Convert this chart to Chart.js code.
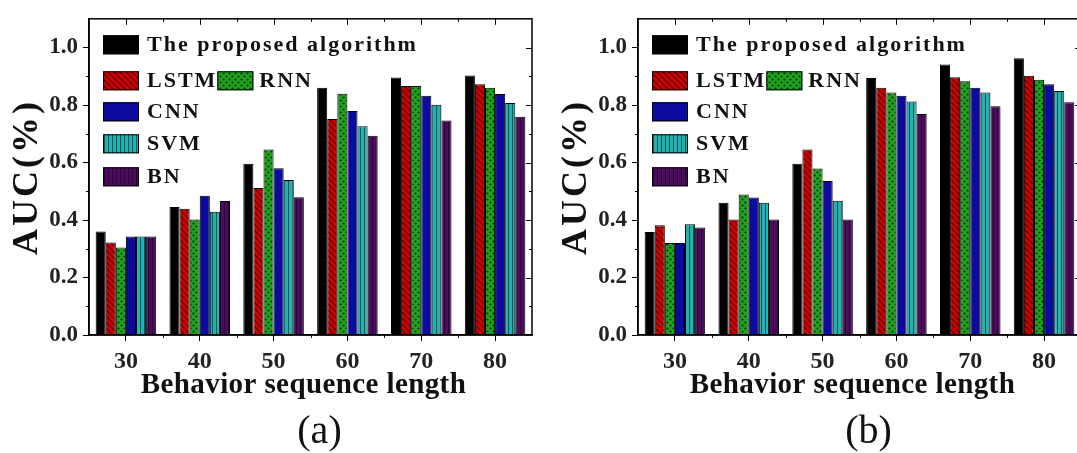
<!DOCTYPE html>
<html>
<head>
<meta charset="utf-8">
<script src="https://cdn.jsdelivr.net/npm/chart.js@4.4.1/dist/chart.umd.min.js"></script>
<style>
  html, body { margin: 0; padding: 0; background: #fff; width: 1077px; height: 453px; overflow: hidden; }
  .panel { position: absolute; top: 0; width: 540px; height: 453px; }
  #boxA { left: 0; }
  #boxB { left: 549px; }
</style>
</head>
<body>
<div class="panel" id="boxA"><canvas id="chartA" width="540" height="453"></canvas></div>
<div class="panel" id="boxB"><canvas id="chartB" width="540" height="453"></canvas></div>
<script>
// behaviour sequence lengths on the x axis
const lengths = ['30', '40', '50', '60', '70', '80'];
const methods = ['The proposed algorithm', 'LSTM', 'RNN', 'CNN', 'SVM', 'BN'];
const yTicks = [0, 0.2, 0.4, 0.6, 0.8, 1.0];

// panel (a)
const proposedA = [0.360, 0.445, 0.596, 0.860, 0.896, 0.903];
const lstmA     = [0.322, 0.439, 0.511, 0.751, 0.866, 0.872];
const rnnA      = [0.304, 0.402, 0.645, 0.839, 0.866, 0.860];
const cnnA      = [0.343, 0.484, 0.580, 0.779, 0.832, 0.838];
const svmA      = [0.343, 0.429, 0.539, 0.726, 0.801, 0.807];
const bnA       = [0.343, 0.466, 0.479, 0.693, 0.746, 0.759];

// panel (b)
const proposedB = [0.358, 0.460, 0.596, 0.894, 0.941, 0.963];
const lstmB     = [0.382, 0.402, 0.645, 0.860, 0.897, 0.902];
const rnnB      = [0.320, 0.489, 0.579, 0.844, 0.883, 0.888];
const cnnB      = [0.320, 0.478, 0.536, 0.832, 0.860, 0.872];
const svmB      = [0.385, 0.460, 0.467, 0.812, 0.844, 0.849];
const bnB       = [0.374, 0.402, 0.402, 0.769, 0.796, 0.810];

const serif = "'Liberation Serif', 'Times New Roman', serif";

// hatch fills like the origin plot
function makePattern(base, size, draw) {
  const c = document.createElement('canvas');
  c.width = size; c.height = size;
  const g = c.getContext('2d');
  g.fillStyle = base;
  g.fillRect(0, 0, size, size);
  draw(g, size);
  return g.createPattern(c, 'repeat');
}

const fills = [
  '#000000',
  makePattern('#d40000', 6, (g, s) => {
    g.strokeStyle = '#5c0000'; g.lineWidth = 1.4;
    g.beginPath();
    g.moveTo(-1, -1); g.lineTo(s + 1, s + 1);
    g.moveTo(-1, s - 1); g.lineTo(1, s + 1);
    g.moveTo(s - 1, -1); g.lineTo(s + 1, 1);
    g.stroke();
  }),
  makePattern('#1fa31f', 6, (g, s) => {
    g.fillStyle = '#053305';
    g.beginPath(); g.arc(1.5, 1.5, 1.1, 0, Math.PI * 2); g.fill();
    g.beginPath(); g.arc(4.5, 4.5, 1.1, 0, Math.PI * 2); g.fill();
  }),
  '#0b0b9e',
  makePattern('#22b2b2', 4, (g, s) => {
    g.fillStyle = '#0c5656'; g.fillRect(0, 0, 1, s);
  }),
  makePattern('#4d0b5e', 4, (g, s) => {
    g.fillStyle = '#2a0434'; g.fillRect(0, 0, 1, s);
  })
];

function drawSpaced(ctx, text, x, y, spacing) {
  ctx.letterSpacing = spacing + 'px';
  ctx.fillText(text, x, y);
  ctx.letterSpacing = '0px';
}

const figurePlugin = {
  id: 'figure',
  afterDraw(chart, args, opts) {
    const { ctx, chartArea: a } = chart;
    const x = chart.scales.x, y = chart.scales.y;
    ctx.save();
    ctx.strokeStyle = '#000';
    ctx.lineWidth = 1.5;
    ctx.strokeRect(a.left, a.top, a.right - a.left, a.bottom - a.top);

    // minor and mirrored ticks
    ctx.lineWidth = 1;
    ctx.beginPath();
    for (let i = 1; i <= 10; i++) {
      const py = Math.round(y.getPixelForValue(i / 10)) + 0.5;
      const major = i % 2 === 0;
      if (!major) { ctx.moveTo(a.left - 3, py); ctx.lineTo(a.left, py); }
      ctx.moveTo(a.right, py); ctx.lineTo(a.right - (major ? 6 : 3), py);
    }
    const step = x.getPixelForValue(1) - x.getPixelForValue(0);
    for (let i = 0; i < lengths.length; i++) {
      const cx = Math.round(x.getPixelForValue(i)) + 0.5;
      ctx.moveTo(cx, a.top); ctx.lineTo(cx, a.top + 6);
      const bx = Math.round(x.getPixelForValue(i) + step / 2) + 0.5;
      if (bx < a.right - 2) {
        ctx.moveTo(bx, a.bottom); ctx.lineTo(bx, a.bottom + 3);
        ctx.moveTo(bx, a.top); ctx.lineTo(bx, a.top + 3);
      }
    }
    ctx.stroke();

    // legend
    const ds = chart.data.datasets;
    ctx.font = 'bold 22px ' + serif;
    ctx.textBaseline = 'middle';
    ctx.fillStyle = '#111';
    const bw = 36, bh = 19;
    const bx0 = a.left + 14;
    const rows = [26, 62, 93, 125, 158];
    const box = (i, bx, cy) => {
      ctx.fillStyle = ds[i].backgroundColor;
      ctx.fillRect(bx, cy - bh / 2, bw, bh);
      ctx.strokeStyle = '#000'; ctx.lineWidth = 1;
      ctx.strokeRect(bx + 0.5, cy - bh / 2 + 0.5, bw - 1, bh - 1);
      ctx.fillStyle = '#111';
    };
    const place = [[0, 0], [1, 1], [3, 2], [4, 3], [5, 4]];
    for (const [i, r] of place) {
      const cy = a.top + rows[r];
      box(i, bx0, cy);
      drawSpaced(ctx, ds[i].label, bx0 + bw + 8, cy + 1, 2);
    }
    // RNN sits next to LSTM
    ctx.letterSpacing = '2px';
    const lw = ctx.measureText(ds[1].label).width;
    ctx.letterSpacing = '0px';
    const rx = bx0 + bw + 8 + lw;
    box(2, rx, a.top + rows[1]);
    drawSpaced(ctx, ds[2].label, rx + bw + 6, a.top + rows[1] + 1, 2);

    // axis titles and panel label
    const mid = (a.left + a.right) / 2;
    ctx.textAlign = 'center';
    ctx.font = 'bold 29px ' + serif;
    drawSpaced(ctx, 'Behavior sequence length', mid - 7, 386, 0.4);
    ctx.font = '40px ' + serif;
    ctx.fillText(opts.tag, mid + 9, 432);
    ctx.save();
    ctx.translate(28, (a.top + a.bottom) / 2);
    ctx.rotate(-Math.PI / 2);
    ctx.font = 'bold 36px ' + serif;
    drawSpaced(ctx, 'AUC(%)', 0, 0, 3);
    ctx.restore();
    ctx.restore();
  }
};

function makeChart(id, series, tag) {
  const datasets = methods.map((m, i) => ({
    label: m,
    data: series[i],
    backgroundColor: fills[i],
    borderColor: '#000',
    borderWidth: 1,
    categoryPercentage: 0.82,
    barPercentage: 1.0
  }));
  return new Chart(document.getElementById(id), {
    type: 'bar',
    data: { labels: lengths, datasets: datasets },
    plugins: [figurePlugin],
    options: {
      responsive: false,
      animation: false,
      layout: { padding: { top: 8, right: 8, left: 0, bottom: 0 } },
      plugins: {
        legend: { display: false },
        tooltip: { enabled: false },
        figure: { tag: tag }
      },
      scales: {
        x: {
          grid: { offset: false, drawOnChartArea: false, drawTicks: true, tickLength: 6, color: '#000' },
          border: { color: '#000', width: 1.5 },
          ticks: { color: '#222', padding: 6, font: { family: serif, size: 24, weight: 'bold' } },
          afterFit: (s) => { s.height = 118; }
        },
        y: {
          min: 0,
          max: 1.1,
          afterBuildTicks: (s) => { s.ticks = yTicks.map(v => ({ value: v })); },
          grid: { drawOnChartArea: false, drawTicks: true, tickLength: 6, color: '#000' },
          border: { color: '#000', width: 1.5 },
          ticks: {
            color: '#222', padding: 5,
            font: { family: serif, size: 23, weight: 'bold' },
            callback: (v) => Number(v).toFixed(1)
          },
          afterFit: (s) => { s.width = 89; }
        }
      }
    }
  });
}

makeChart('chartA', [proposedA, lstmA, rnnA, cnnA, svmA, bnA], '(a)');
makeChart('chartB', [proposedB, lstmB, rnnB, cnnB, svmB, bnB], '(b)');
</script>
</body>
</html>
